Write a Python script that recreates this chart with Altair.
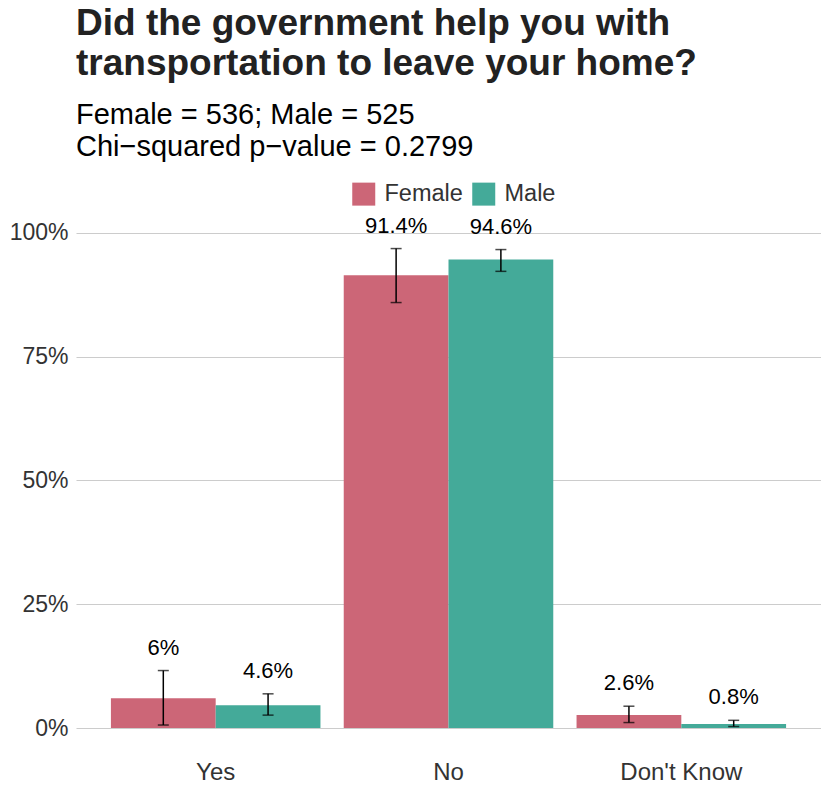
import altair as alt
import pandas as pd

categories = ["Yes", "No", "Don't Know"]
groups = ["Female", "Male"]
pct_female = [0.060, 0.914, 0.026]
pct_male = [0.046, 0.946, 0.008]
lower_female = [0.006, 0.859, 0.011]
upper_female = [0.116, 0.968, 0.044]
lower_male = [0.026, 0.922, 0.003]
upper_male = [0.069, 0.966, 0.0155]
labels_female = ["6%", "91.4%", "2.6%"]
labels_male = ["4.6%", "94.6%", "0.8%"]
colors = ["#CC6677", "#44AA99"]
y_ticks = [0, 0.25, 0.5, 0.75, 1.0]

rows = []
for i, c in enumerate(categories):
    rows.append(dict(cat=c, sex="Female", pct=pct_female[i], lo=lower_female[i],
                     hi=upper_female[i], lab=labels_female[i]))
    rows.append(dict(cat=c, sex="Male", pct=pct_male[i], lo=lower_male[i],
                     hi=upper_male[i], lab=labels_male[i]))
df = pd.DataFrame(rows)

FONT = "Liberation Sans"

x = alt.X("cat:N", sort=categories, title=None,
          scale=alt.Scale(paddingInner=0.1, paddingOuter=0.15),
          axis=alt.Axis(labelAngle=0, labelFontSize=24, labelColor="#333333",
                        labelFont=FONT, ticks=False, domain=False, grid=False,
                        labelPadding=32))
xo = alt.XOffset("sex:N", sort=groups, scale=alt.Scale(paddingInner=0, paddingOuter=0))

base = alt.Chart(df)

bars = base.mark_bar().encode(
    x=x, xOffset=xo,
    y=alt.Y("pct:Q", title=None,
            scale=alt.Scale(domain=[0, 1.06], nice=False, zero=True),
            axis=alt.Axis(values=y_ticks, format=".0%", labelFontSize=23,
                          labelColor="#333333", labelFont=FONT, ticks=False,
                          domain=False, grid=True, gridColor="#CCCCCC",
                          gridWidth=1.2, labelPadding=8)),
    color=alt.Color("sex:N", sort=groups,
                    scale=alt.Scale(domain=groups, range=colors),
                    legend=alt.Legend(title=None, orient="none", direction="horizontal",
                                      legendX=276, legendY=-21, symbolType="square",
                                      symbolSize=529, symbolStrokeWidth=0,
                                      labelFontSize=23.5, labelFont=FONT,
                                      labelColor="#333333", labelOffset=9,
                                      columnPadding=9, padding=0)),
)

rules = base.mark_rule(color="black", strokeWidth=1.5).encode(
    x=x, xOffset=xo, y="lo:Q", y2="hi:Q")

caps_hi = base.mark_tick(color="black", size=11, thickness=1.5, orient="horizontal").encode(
    x=x, xOffset=xo, y="hi:Q")
caps_lo = base.mark_tick(color="black", size=11, thickness=1.5, orient="horizontal").encode(
    x=x, xOffset=xo, y="lo:Q")

texts = base.mark_text(fontSize=22, font=FONT, color="black", dy=-23,
                       baseline="middle").encode(
    x=x, xOffset=xo, y="hi:Q", text="lab:N")

chart = alt.layer(bars, rules, caps_hi, caps_lo, texts).properties(
    width=745, height=525,
    background="white",
    autosize=alt.AutoSizeParams(type="none"),
    padding={"left": 68, "top": 195, "right": 0, "bottom": 60},
    title=alt.Title(
        text=["Did the government help you with", "transportation to leave your home?"],
        subtitle=["Female = 536; Male = 525", "Chi\u2212squared p\u2212value = 0.2799"],
        anchor="start", frame="group", font=FONT, fontSize=37, fontWeight="bold",
        color="#222222", lineHeight=40, subtitleFont=FONT, subtitleFontSize=29,
        subtitleColor="black", subtitleLineHeight=32, subtitlePadding=18, offset=19),
).configure_view(strokeWidth=0, strokeOpacity=0)

chart.save("out.html", embed_options={"renderer": "svg", "actions": False})
